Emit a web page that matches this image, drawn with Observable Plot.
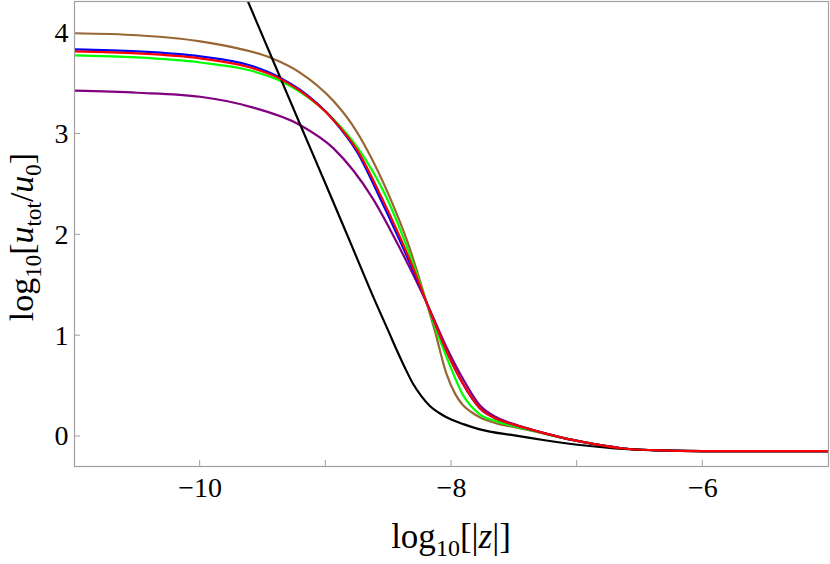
<!DOCTYPE html>
<html><head><meta charset="utf-8">
<script src="https://cdn.jsdelivr.net/npm/d3@7"></script>
<script src="https://cdn.jsdelivr.net/npm/@observablehq/plot@0.6"></script>
<style>body{margin:0;background:#fff} svg{display:block}</style>
</head><body><div id="chart"></div>
<script>
// tick values
const xTickLabels = [-10, -8, -6];
const xTickAll = [-10, -9, -8, -7, -6];
const yTickLabels = [0, 1, 2, 3, 4];

// series (log10|z|, log10[u_tot/u0])
const brownX = [-11, -10.5, -10, -9.7, -9.444, -9.206, -8.941, -8.8, -8.67, -8.49, -8.35, -8.199, -8.133, -8.04, -7.97, -7.908, -7.84, -7.775, -7.642, -7.51, -7.3, -7.139, -6.874, -6.609, -6.344, -6.0, -5.5, -5.0];
const brownY = [4.00, 3.98, 3.92, 3.85, 3.76, 3.61, 3.33, 3.11, 2.84, 2.37, 1.93, 1.33, 1.05, 0.62, 0.42, 0.31, 0.24, 0.19, 0.13, 0.095, 0.04, -0.007, -0.073, -0.122, -0.139, -0.145, -0.146, -0.146];

const purpleX = [-11, -10.5, -10, -9.6, -9.206, -8.941, -8.626, -8.4, -8.199, -8.04, -7.908, -7.775, -7.642, -7.51, -7.3, -7.139, -6.874, -6.609, -6.344, -6.0, -5.5, -5.0];
const purpleY = [3.43, 3.41, 3.37, 3.27, 3.09, 2.86, 2.36, 1.84, 1.33, 0.886, 0.57, 0.31, 0.19, 0.125, 0.045, -0.007, -0.073, -0.122, -0.139, -0.145, -0.146, -0.146];

const greenX = [-11, -10.5, -10, -9.6, -9.365, -9.206, -8.94, -8.75, -8.517, -8.276, -8.199, -8.12, -8.04, -7.908, -7.775, -7.642, -7.51, -7.3, -7.139, -6.874, -6.609, -6.344, -6.0, -5.5, -5.0];
const greenY = [3.78, 3.76, 3.71, 3.63, 3.53, 3.42, 3.15, 2.87, 2.37, 1.61, 1.33, 1.05, 0.79, 0.41, 0.22, 0.15, 0.105, 0.04, -0.007, -0.073, -0.122, -0.139, -0.145, -0.146, -0.146];

const blueX = [-11, -10.5, -10, -9.6, -9.365, -9.206, -8.94, -8.75, -8.556, -8.276, -8.199, -8.12, -8.04, -7.908, -7.775, -7.642, -7.51, -7.3, -7.139, -6.874, -6.609, -6.344, -6.0, -5.5, -5.0];
const blueY = [3.84, 3.82, 3.77, 3.68, 3.56, 3.44, 3.14, 2.82, 2.33, 1.56, 1.33, 1.09, 0.85, 0.52, 0.28, 0.175, 0.12, 0.045, -0.007, -0.073, -0.122, -0.139, -0.145, -0.146, -0.146];

const blackX = [-9.70, -9.623, -9.40, -9.206, -9.0, -8.8, -8.6, -8.5, -8.437, -8.37, -8.305, -8.24, -8.17, -8.1, -8.04, -7.9, -7.775, -7.5, -7.245, -6.98, -6.7, -6.4, -6.0, -5.5, -5.0];
const blackY = [4.55, 4.325, 3.67, 3.10, 2.50, 1.91, 1.32, 1.04, 0.86, 0.68, 0.52, 0.40, 0.30, 0.235, 0.19, 0.12, 0.07, 0.01, -0.04, -0.085, -0.118, -0.137, -0.145, -0.146, -0.146];

const redX = [-11, -10.5, -10, -9.6, -9.365, -9.206, -8.94, -8.75, -8.556, -8.276, -8.199, -8.12, -8.04, -7.908, -7.775, -7.642, -7.51, -7.3, -7.139, -6.874, -6.609, -6.344, -6.0, -5.5, -5.0];
const redY = [3.82, 3.80, 3.75, 3.66, 3.55, 3.43, 3.14, 2.84, 2.37, 1.58, 1.33, 1.09, 0.85, 0.52, 0.28, 0.175, 0.12, 0.045, -0.007, -0.073, -0.122, -0.139, -0.145, -0.146, -0.146];

const seriesColors = ["#996633", "#800080", "#00ff00", "#0000ff", "#000000", "#ff0000"];

function series(xs, ys) { return xs.map((x, i) => ({x, y: ys[i]})); }
const allSeries = [
  series(brownX, brownY), series(purpleX, purpleY), series(greenX, greenY),
  series(blueX, blueY), series(blackX, blackY), series(redX, redY)
];

const serif = "Liberation Serif";
const fmt = d => (d < 0 ? "\u2212" + (-d) : String(d));
const yDomain = [-0.298, 4.315];
const plot = Plot.plot({
  width: 830, height: 564,
  marginLeft: 74, marginRight: 2, marginTop: 1, marginBottom: 98,
  style: {background: "white", color: "black"},
  x: {domain: [-11, -5]},
  y: {domain: yDomain},
  marks: [
    Plot.axisX(xTickLabels, {tickSize: 0, tickPadding: 11, fontSize: 28, label: null, tickFormat: fmt}),
    Plot.axisY(yTickLabels, {tickSize: 0, tickPadding: 6, fontSize: 28, label: null, tickFormat: fmt}),
    ...allSeries.map((d, i) => Plot.line(d, {x: "x", y: "y", stroke: seriesColors[i], strokeWidth: 2.2, curve: "monotone-x", clip: true})),
    Plot.frame({stroke: "#a0a0a0", strokeWidth: 1.2})
  ]
});

const sx = plot.scale("x"), sy = plot.scale("y");
const svg = d3.select(plot);
svg.style("font-family", serif);
svg.selectAll("text").style("font-family", serif).style("font-variant", "normal");
const yBottom = sy.apply(yDomain[0]);
const xLeft = sx.apply(-11);
const tg = svg.append("g").attr("stroke", "#a0a0a0").attr("stroke-width", 1);
xTickAll.forEach(v => {
  const px = sx.apply(v);
  tg.append("line").attr("x1", px).attr("x2", px).attr("y1", yBottom).attr("y2", yBottom - 6);
});
yTickLabels.forEach(v => {
  const py = sy.apply(v);
  tg.append("line").attr("x1", xLeft).attr("x2", xLeft + 6).attr("y1", py).attr("y2", py);
});

// axis titles
const xl = svg.append("text").attr("x", sx.apply(-8)).attr("y", 548)
  .attr("text-anchor", "middle").style("font-family", serif).attr("font-size", 35).attr("fill", "black");
xl.append("tspan").text("log");
xl.append("tspan").attr("font-size", 24).attr("dy", 8).text("10");
xl.append("tspan").attr("dy", -8).text("[|");
xl.append("tspan").attr("font-style", "italic").text("z");
xl.append("tspan").text("|]");

const yl = svg.append("text").attr("transform", `translate(33,237) rotate(-90)`)
  .attr("text-anchor", "middle").style("font-family", serif).attr("font-size", 34).attr("fill", "black");
yl.append("tspan").text("log");
yl.append("tspan").attr("font-size", 23).attr("dy", 8).text("10");
yl.append("tspan").attr("dy", -8).text("[");
yl.append("tspan").attr("font-style", "italic").text("u");
yl.append("tspan").attr("font-size", 23).attr("dy", 8).text("tot");
yl.append("tspan").attr("dy", -8).text("/");
yl.append("tspan").attr("font-style", "italic").text("u");
yl.append("tspan").attr("font-size", 23).attr("dy", 8).text("0");
yl.append("tspan").attr("dy", -8).text("]");

document.getElementById("chart").appendChild(plot);
</script>
</body></html>
